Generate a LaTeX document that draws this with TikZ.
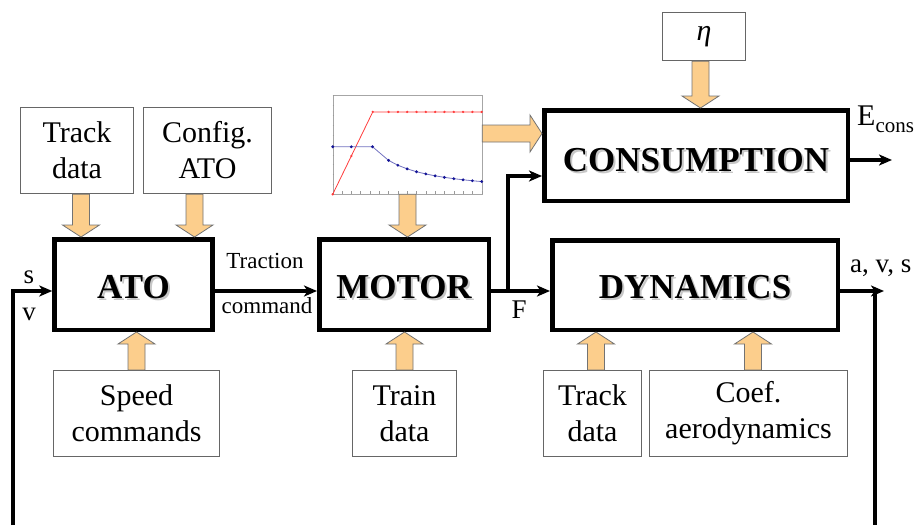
\documentclass[tikz,border=0pt]{standalone}
\usepackage{fontspec}
\setmainfont{Liberation Serif}
\usetikzlibrary{calc,arrows.meta}
\definecolor{feedorange}{RGB}{252,206,140}
\definecolor{plotred}{RGB}{255,60,60}
\definecolor{plotblue}{RGB}{20,20,150}
\newcommand\inboxfont{\fontsize{30}{36}\selectfont}
\newcommand\blockfont{\fontsize{35}{40}\selectfont\bfseries}
\newcommand\labfont{\fontsize{27}{30}\selectfont}
\newcommand\smallfont{\fontsize{23}{26}\selectfont}
\newcommand\shadowed[1]{\makebox[0pt][l]{\hspace{2pt}\raisebox{-2pt}{\textcolor{black!22}{#1}}}#1}
\def\fatarrow(#1)(#2){\draw[feed] let \p1=(#1), \p2=(#2), \n1={atan2(\y2-\y1,\x2-\x1)}, \n2={veclen(\x2-\x1,\y2-\y1)} in [shift={(\p1)}, rotate=\n1] (0pt,-8.5pt) -- ({(\n2-12)*1pt},-8.5pt) -- ({(\n2-12)*1pt},-18.5pt) -- ({\n2*1pt},0pt) -- ({(\n2-12)*1pt},18.5pt) -- ({(\n2-12)*1pt},8.5pt) -- (0pt,8.5pt) -- cycle;}
\tikzset{
	block/.style={draw, line width=4.5pt, inner sep=0pt, font=\blockfont, text height=27pt, text depth=0pt},
	inbox/.style={draw=black!60, line width=1.2pt, inner sep=0pt, align=center, font=\inboxfont},
	sig/.style={line width=3.5pt, -{Stealth[length=13pt,width=11pt,inset=3.5pt]}},
	wire/.style={line width=3.5pt},
	feed/.style={fill=feedorange, draw=black!55, line width=0.8pt},
	lab/.style={inner sep=0pt, font=\labfont}
}

\begin{document}
\begin{tikzpicture}[x=1pt, y=-1pt]
			%%%%% START %%%%%
			\useasboundingbox (0,0) rectangle (920,525);
			
			\node[block, minimum width=158pt, minimum height=90.5pt] (ato) at (133.5,284.5) {\shadowed{ATO}};
			\node[block, minimum width=169.5pt, minimum height=90.5pt] (motor) at (404,284.5) {\shadowed{MOTOR}};
			\node[block, minimum width=285.5pt, minimum height=89.5pt] (dyn) at (695,285) {\shadowed{DYNAMICS}};
			\node[block, minimum width=303.5pt, minimum height=90.5pt, text height=31pt] (cons) at (696,155.5) {\shadowed{CONSUMPTION}};
			
			\node[inbox, minimum width=113pt, minimum height=86pt] (trackA) at (77,150.5) {Track\\data};
			\node[inbox, minimum width=128pt, minimum height=86pt] (cfg) at (207.5,150.5) {Config.\\ATO};
			\node[inbox, minimum width=166pt, minimum height=86pt] (speed) at (136.5,413.5) {Speed\\commands};
			\node[inbox, minimum width=104pt, minimum height=86pt] (train) at (404.5,413.5) {Train\\data};
			\node[inbox, minimum width=98pt, minimum height=86pt] (trackB) at (592.5,413.5) {Track\\data};
			\node[inbox, minimum width=198pt, minimum height=86pt] (coef) at (748.5,413.5) {Coef.\\aerodynamics};
			\node[inbox, minimum width=83pt, minimum height=48pt] (eta) at (704,36.5) {\textit{η}};
			
			% motor curves
			\node[draw=black!35, line width=0.6pt, inner sep=0pt, minimum width=149pt, minimum height=99pt] (chart) at (407.5,144.5) {};
			\begin{scope}[shift={(chart.south west)}, x=9.3125pt, y=99pt]
				\foreach \k in {0,...,16} \draw[black!40, line width=0.4pt] (\k,0) -- (\k,0.03);
				\foreach \k in {0,...,10} \draw[black!40, line width=0.4pt] (0,\k/10) -- (0.15,\k/10);
				\draw[plotred, line width=0.8pt] (0,0) -- (4.3,0.832) -- (16,0.832);
				\foreach \k in {0,2} \fill[plotred] (\k,0.1935*\k) circle (1.3pt);
				\foreach \k in {4.3,6,7,8,9,10,11,12,13,14,15,16} \fill[plotred] (\k,0.832) circle (1.3pt);
				\draw[plotblue!60, line width=0.8pt] (0,0.48) -- (4.28,0.48) -- plot[samples at={6,7,8,9,10,11,12,13,14,15,16}] (\x,{2.054/\x});
				\foreach \k in {0,2,4.28} \fill[plotblue] (\k,0.48) circle (1.6pt);
				\foreach \k in {6,...,16} \fill[plotblue] (\k,{2.054/\k}) circle (1.6pt);
			\end{scope}
			
			\fatarrow([xshift=4pt]trackA.south)([xshift=4pt]trackA.south |- ato.north)
			\fatarrow([xshift=-13pt]cfg.south)([xshift=-13pt]cfg.south |- ato.north)
			\fatarrow(speed.north)(speed.north |- ato.south)
			\fatarrow(train.north)(train.north |- motor.south)
			\fatarrow([xshift=3.5pt]trackB.north)([xshift=3.5pt]trackB.north |- dyn.south)
			\fatarrow([xshift=4.5pt]coef.north)([xshift=4.5pt]coef.north |- dyn.south)
			\fatarrow([xshift=-3.5pt]eta.south)([xshift=-3.5pt]eta.south |- cons.north)
			\fatarrow(chart.south)(chart.south |- motor.north)
			\fatarrow([yshift=11pt]chart.east)([yshift=11pt]chart.east -| cons.west)
			
			\coordinate (fork) at ($(motor.east)+(17,6.5)$);
			\coordinate (avsEnd) at ($(dyn.east)+(44,6)$);
			\coordinate (loopR) at ($(dyn.east)+(35,6)$);
			\coordinate (loopL) at (13,525);
			
			\draw[sig] ($(ato.east)+(0,6.5)$) -- ($(motor.west)+(0,6.5)$);
			\draw[sig] ($(motor.east)+(0,6.5)$) -- ($(dyn.west)+(0,6)$);
			\draw[sig] (fork) |- ($(cons.west)+(0,20.5)$);
			\draw[sig] ($(dyn.east)+(0,6)$) -- (avsEnd);
			\draw[wire] (loopR) -- (loopR |- loopL);
			\draw[sig] (loopL) |- ($(ato.west)+(0,6.5)$);
			\draw[sig] ($(cons.east)+(0,4.5)$) -- ++(42,0);
			
			\node[lab, anchor=base] (sLab) at (29,283) {s};
			\node[lab, anchor=base] (vLab) at (29,320) {v};
			\node[inner sep=0pt, font=\smallfont, anchor=base] (tracLab) at (265,268) {Traction};
			\node[inner sep=0pt, font=\smallfont, anchor=base] (cmdLab) at (267,313) {command};
			\node[lab, anchor=base] (fLab) at (519,318) {F};
			\node[lab, anchor=base west] (avsLab) at (850,272) {a, v, s};
			\node[inner sep=0pt, font=\inboxfont, anchor=base west] (econsLab) at (857,125) {E\raisebox{-7pt}{\fontsize{21}{21}\selectfont cons}};
			
			%%%%% END %%%%%
\end{tikzpicture}
\end{document}
